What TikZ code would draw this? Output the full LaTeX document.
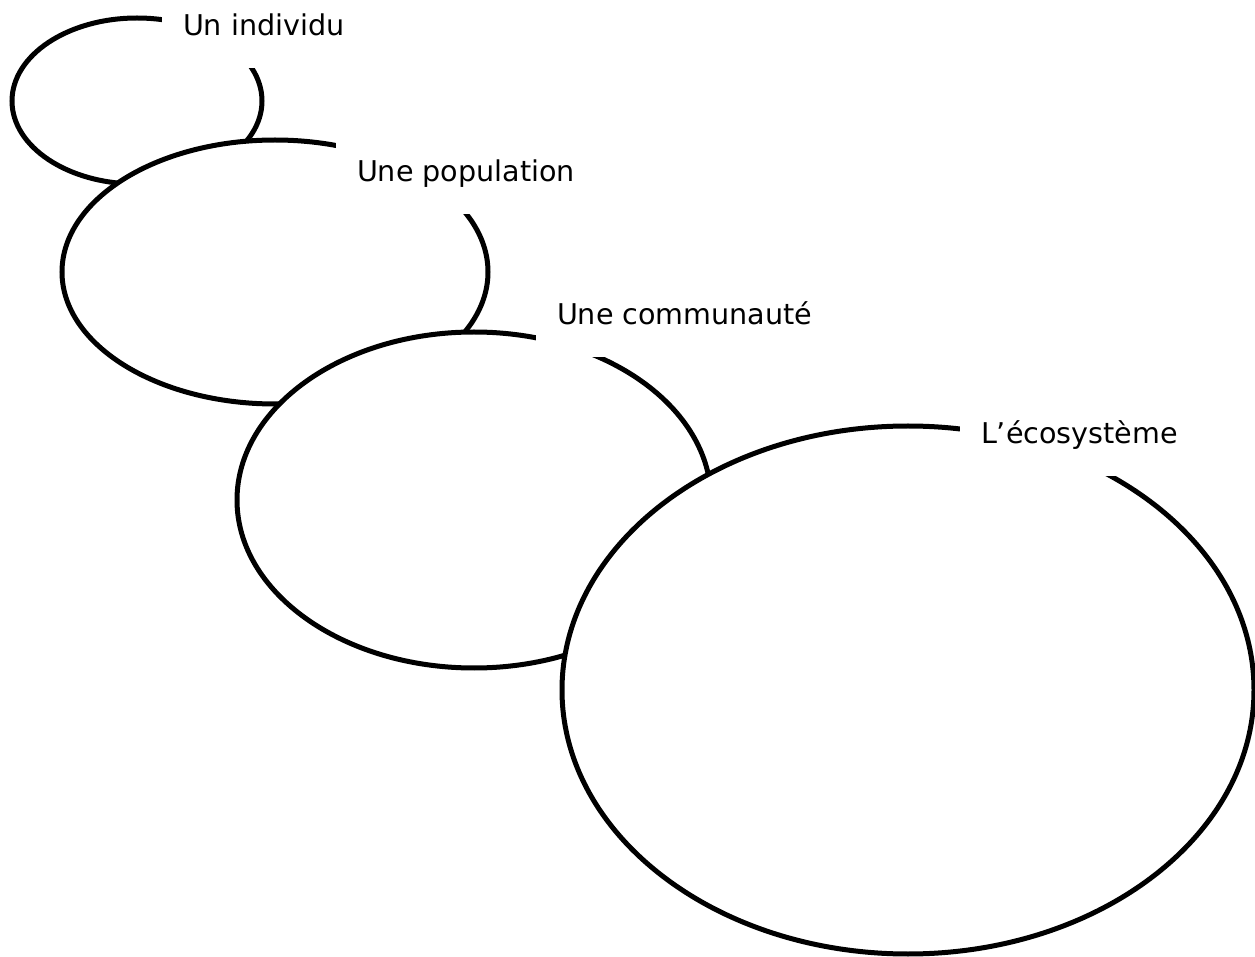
\documentclass[tikz,border=0pt]{standalone}
\usepackage{fontspec}
\setmainfont{DejaVu Sans}
\usetikzlibrary{shapes.geometric}
\begin{document}
\begin{tikzpicture}[x=0.5pt, y=-0.5pt]
	% Define styles
	\tikzset{
		zone/.style={ellipse, draw, line width=2.5pt, fill=white, inner sep=0pt},
		etiquette/.style={fill=white, anchor=base west, inner xsep=10.5pt, inner ysep=4pt, outer sep=0pt, text height=17pt, text depth=12pt, font=\fontsize{14.3}{17}\selectfont}
	}
	\useasboundingbox (0,0) rectangle (1255,957);
	% Nodes
	\node[zone, minimum width=125pt, minimum height=83pt] (individu) at (137,101) {};
	\node[etiquette] (lindividu) at (162,36) {Un individu};
	
	\node[zone, minimum width=213pt, minimum height=132pt] (population) at (275,272) {};
	\node[etiquette] (lpopulation) at (336,182) {Une population};
	
	\node[zone, minimum width=237pt, minimum height=168pt] (communaute) at (474,500) {};
	\node[etiquette] (lcommunaute) at (536,325) {Une communauté};
	
	\node[zone, minimum width=346pt, minimum height=264pt] (ecosysteme) at (908,690) {};
	\node[etiquette] (lecosysteme) at (960,444) {L’écosystème};
\end{tikzpicture}
\end{document}
